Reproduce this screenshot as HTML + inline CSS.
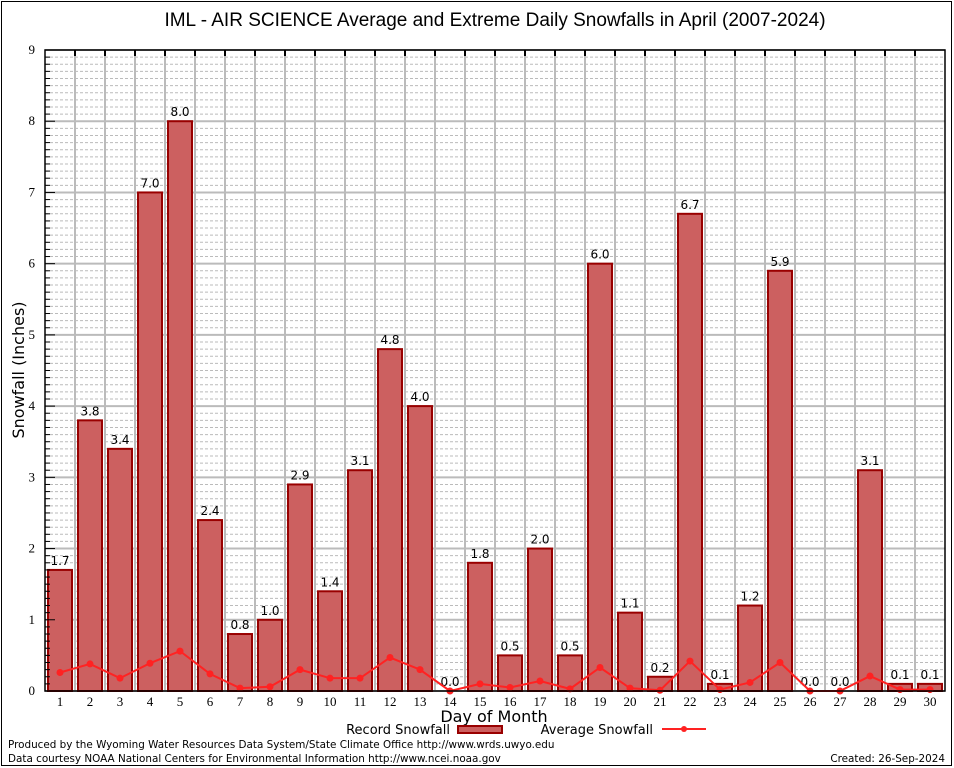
<!DOCTYPE html>
<html><head><meta charset="utf-8"><style>
body{margin:0;background:#fff}
svg{display:block}
text{font-family:"DejaVu Sans","Liberation Sans",sans-serif}
.serif{font-family:"Liberation Serif","DejaVu Serif",serif}
.title{font-family:"Liberation Sans",sans-serif}
</style></head><body>
<svg id="chart" width="954" height="768">
<rect x="1.5" y="1.5" width="950" height="764" fill="#fff" stroke="#000"/>
<text class="title" x="495" y="26" font-size="19" text-anchor="middle">IML - AIR SCIENCE Average and Extreme Daily Snowfalls in April (2007-2024)</text>
<g id="grid"></g>
<g id="bars"></g>
<g id="line"></g>
<g id="axes"></g>
<text x="24" y="370" font-size="16" text-anchor="middle" transform="rotate(-90 24 370)">Snowfall (Inches)</text>
<text x="494" y="722" font-size="16" text-anchor="middle">Day of Month</text>
<g>
<text x="450" y="734" font-size="13" text-anchor="end">Record Snowfall</text>
<rect x="458" y="726" width="44" height="7" fill="#cc6060" stroke="#900" stroke-width="2"/>
<text x="653" y="734" font-size="13" text-anchor="end">Average Snowfall</text>
<line x1="662" y1="729" x2="706" y2="729" stroke="#f22" stroke-width="2"/>
<circle cx="684" cy="729" r="3" fill="#f22"/>
</g>
<text x="8" y="748" font-size="10.4">Produced by the Wyoming Water Resources Data System/State Climate Office http://www.wrds.uwyo.edu</text>
<text x="8" y="762" font-size="10.4">Data courtesy NOAA National Centers for Environmental Information http://www.ncei.noaa.gov</text>
<text x="945" y="762" font-size="10.4" text-anchor="end">Created: 26-Sep-2024</text>
</svg>
<script>
const days=[1,2,3,4,5,6,7,8,9,10,11,12,13,14,15,16,17,18,19,20,21,22,23,24,25,26,27,28,29,30];
const recordSnow=[1.7,3.8,3.4,7.0,8.0,2.4,0.8,1.0,2.9,1.4,3.1,4.8,4.0,0.0,1.8,0.5,2.0,0.5,6.0,1.1,0.2,6.7,0.1,1.2,5.9,0.0,0.0,3.1,0.1,0.1];
const avgSnow=[0.26,0.38,0.18,0.39,0.56,0.24,0.04,0.06,0.30,0.18,0.18,0.47,0.30,0.0,0.10,0.05,0.14,0.03,0.33,0.04,0.01,0.42,0.02,0.12,0.40,0.0,0.0,0.21,0.02,0.02];
const yTicks=[0,1,2,3,4,5,6,7,8,9];
const NS="http://www.w3.org/2000/svg";
const L=45,R=945,T=50,B=691,YMAX=9;
function y(v){return B-(v/YMAX)*(B-T);}
function xc(d){return L+(d-0.5)*(R-L)/days.length;}
function mk(tag,attrs,parent){const e=document.createElementNS(NS,tag);for(const k in attrs)e.setAttribute(k,attrs[k]);parent.appendChild(e);return e;}
const grid=document.getElementById('grid'),bars=document.getElementById('bars'),line=document.getElementById('line'),axes=document.getElementById('axes');
for(let i=1;i<YMAX*10;i++){
  if(i%10===0)continue;
  const g=mk('line',{x1:L,x2:R,y1:y(i/10),y2:y(i/10),stroke:'#bbb','stroke-dasharray':'3,2','stroke-width':1},grid);
  
  
  const t=mk('line',{x1:L,x2:L+5,y1:y(i/10),y2:y(i/10),stroke:'#000'},axes);
  
  
}
yTicks.forEach(v=>{
  const g=mk('line',{x1:L,x2:R,y1:y(v),y2:y(v),stroke:'#bbb','stroke-width':2},grid);
  
  
  const t=mk('line',{x1:L,x2:L+10,y1:y(v),y2:y(v),stroke:'#000'},axes);
  
  
  const lb=mk('text',{x:L-10,y:y(v)+4,'font-size':13,'text-anchor':'end','class':'serif'},axes);
  lb.textContent=v;
  
  
});
const w=(R-L)/days.length;
for(let i=1;i<days.length;i++){
  const g=mk('line',{x1:L+i*w,x2:L+i*w,y1:T,y2:B,stroke:'#bbb','stroke-width':2},grid);
  
  
  const t=mk('line',{x1:L+i*w,x2:L+i*w,y1:T,y2:T+6,stroke:'#000','stroke-width':2},axes);
  
  
}
days.forEach((d,i)=>{
  const v=recordSnow[i],cx=xc(d);
  if(v>0){
    const r=mk('rect',{x:cx-12,y:y(v),width:24,height:B-y(v),fill:'#cc6060',stroke:'#900','stroke-width':2},bars);
    
    
  }
  const t=mk('text',{x:cx,y:y(v)-5,'font-size':12,'text-anchor':'middle'},bars);
  t.textContent=v.toFixed(1);
  
  
  const xl=mk('text',{x:cx,y:B+15,'font-size':13,'text-anchor':'middle','class':'serif'},axes);
  xl.textContent=d;
  
  
});
const pts=days.map((d,i)=>xc(d)+','+y(avgSnow[i])).join(' ');
const pl=mk('polyline',{points:pts,fill:'none',stroke:'#f22','stroke-width':2},line);


days.forEach((d,i)=>{
  const c=mk('circle',{cx:xc(d),cy:y(avgSnow[i]),r:3.5,fill:'#f22'},line);
  
  
});
const fr=mk('rect',{x:L,y:T,width:R-L,height:B-T,fill:'none',stroke:'#000','stroke-width':1.5},axes);


</script>
</body></html>
